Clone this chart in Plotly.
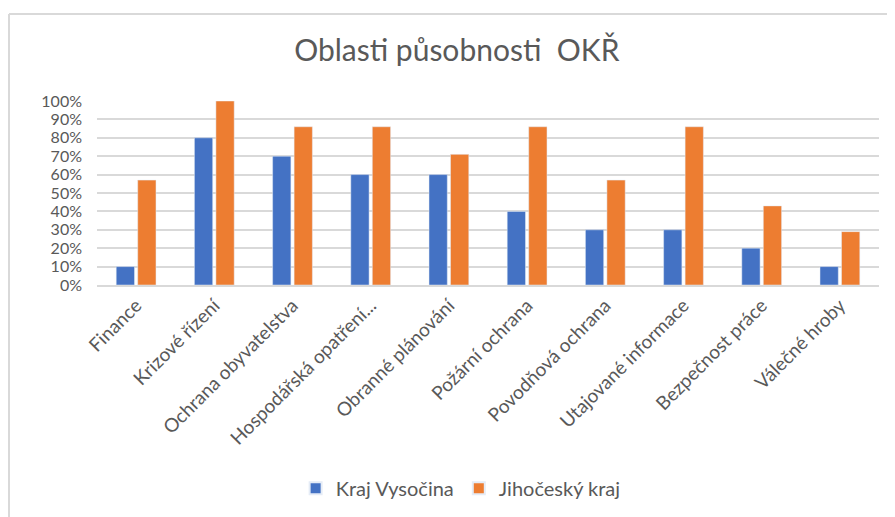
import plotly.graph_objects as go

categories = ["Finance", "Krizové řízení", "Ochrana obyvatelstva", "Hospodářská opatření...",
              "Obranné plánování", "Požární ochrana", "Povodňová ochrana",
              "Utajované informace", "Bezpečnost práce", "Válečné hroby"]
vysocina = [0.10, 0.80, 0.70, 0.60, 0.60, 0.40, 0.30, 0.30, 0.20, 0.10]
jihocesky = [0.57, 1.00, 0.86, 0.86, 0.71, 0.86, 0.57, 0.86, 0.43, 0.29]
y_ticks = [0, 0.1, 0.2, 0.3, 0.4, 0.5, 0.6, 0.7, 0.8, 0.9, 1.0]

FONT = "Lato"
TXT = "#595959"

# page body has an 8px margin; compensate so the plot lands where the reference has it
W, H = 887, 509
L, T, R = 89, 93, 16
PW, PH = W - L - R, 184
B = H - T - PH

fig = go.Figure()
fig.add_trace(go.Bar(name="Kraj Vysočina", x=categories, y=vysocina, marker_color="#4472C4"))
fig.add_trace(go.Bar(name="Jihočeský kraj", x=categories, y=jihocesky, marker_color="#ED7D31"))

bx = (1 - L) / PW
by = (T + PH - 6) / PH

fig.update_layout(
    width=W, height=H,
    margin=dict(l=L, r=R, t=T, b=B, autoexpand=False),
    paper_bgcolor="white", plot_bgcolor="white",
    barmode="group", bargap=0.45, bargroupgap=0.15,
    font=dict(family=FONT, color=TXT),
    title=dict(text="Oblasti působnosti  OKŘ", x=0.506, xanchor="center", y=1 - 42 / H, yanchor="middle",
               font=dict(family=FONT, size=30, color=TXT)),
    legend=dict(orientation="h", x=0.465, xanchor="center", y=-1.105, yanchor="middle",
                font=dict(family=FONT, size=20, color=TXT), itemsizing="constant",
                traceorder="normal"),
    xaxis=dict(tickangle=-45, tickfont=dict(size=19, color=TXT), showline=True,
               linecolor="#d9d9d9", linewidth=2, ticks=""),
    yaxis=dict(range=[0, 1.0], tickvals=y_ticks, tickformat=".0%",
               tickfont=dict(size=16, color=TXT), gridcolor="#d9d9d9", gridwidth=2,
               zeroline=False, ticks="", showline=False, ticklabelstandoff=14),
    shapes=[
        dict(type="line", xref="paper", yref="paper", x0=bx, x1=1.05, y0=by, y1=by,
             line=dict(color="#d9d9d9", width=2)),
        dict(type="line", xref="paper", yref="paper", x0=bx, x1=bx, y0=by, y1=-1.5,
             line=dict(color="#d9d9d9", width=2)),
    ],
)

fig.write_html("out.html")
